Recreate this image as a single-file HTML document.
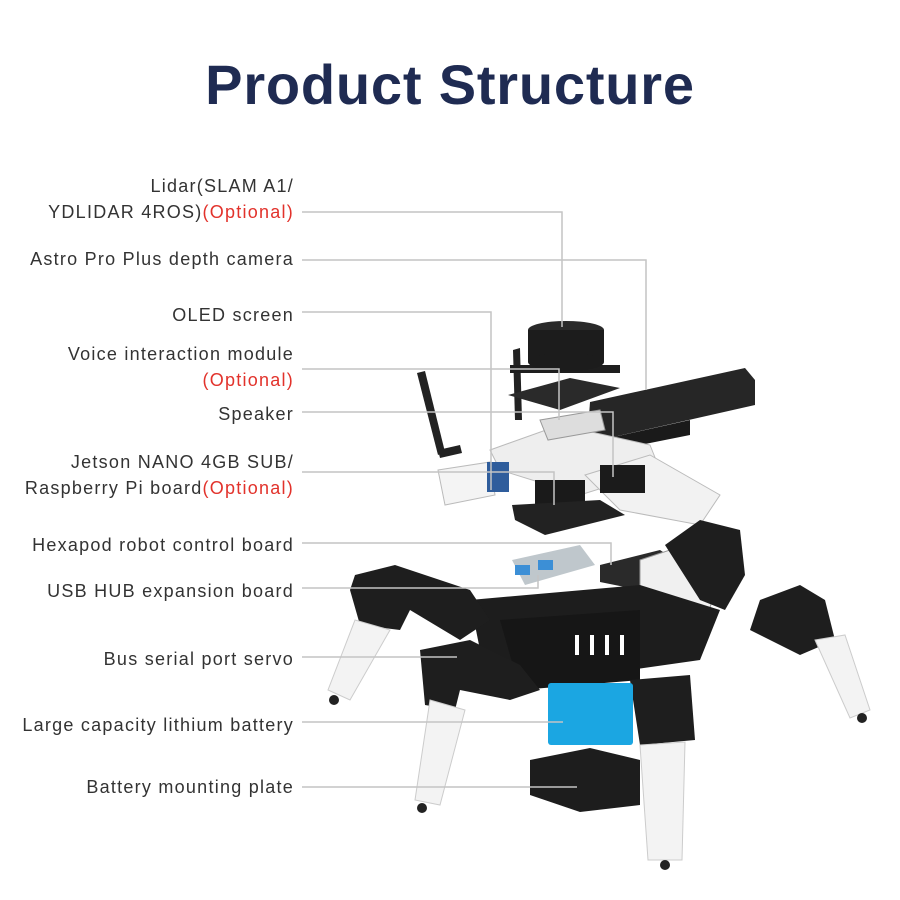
<!DOCTYPE html>
<html><head><meta charset="utf-8"><style>
html,body{margin:0;padding:0;background:#fff;}
#w{position:relative;width:900px;height:900px;overflow:hidden;background:#fff;font-family:"Liberation Sans",sans-serif;}
h1{position:absolute;top:52px;left:0;width:900px;text-align:center;margin:0;font-size:56px;font-weight:bold;color:#1f2b52;letter-spacing:0.8px;}
.l{position:absolute;right:606px;font-size:18px;color:#333;text-align:right;white-space:nowrap;line-height:26px;letter-spacing:1.25px;}
.r{color:#e2322b;}
svg{position:absolute;left:0;top:0;}
</style></head><body><div id="w">
<h1>Product Structure</h1>
<svg width="900" height="900">
<g>
<polygon points="417,373 425,371 445,452 438,455" fill="#222"/>
<polygon points="438,450 460,445 462,453 440,458" fill="#222"/>
<polygon points="513,350 520,348 522,420 515,420" fill="#222"/>
<rect x="510" y="365" width="110" height="8" fill="#1e1e1e"/>
<ellipse cx="566" cy="330" rx="38" ry="9" fill="#2a2a2a"/>
<rect x="528" y="330" width="76" height="32" fill="#1c1c1c"/>
<ellipse cx="566" cy="362" rx="38" ry="9" fill="#1c1c1c"/>
<polygon points="508,395 570,378 620,388 560,410" fill="#2a2a2a"/>
<polygon points="590,402 745,368 755,380 755,405 600,440 588,430" fill="#262626"/>
<polygon points="600,440 690,420 690,435 605,452" fill="#1a1a1a"/>
<polygon points="490,450 560,425 650,445 660,470 580,495 500,470" fill="#eeeeee" stroke="#bbb"/>
<polygon points="540,420 600,410 605,430 548,440" fill="#ddd" stroke="#999"/>
<polygon points="585,475 650,455 720,495 700,525 620,510" fill="#f2f2f2" stroke="#bbb"/>
<rect x="600" y="465" width="45" height="28" fill="#1b1b1b"/>
<polygon points="438,470 490,462 495,495 445,505" fill="#f4f4f4" stroke="#bbb"/>
<rect x="487" y="462" width="22" height="30" fill="#2f5d9c"/>
<rect x="535" y="480" width="50" height="28" fill="#1a1a1a"/>
<polygon points="512,505 600,500 625,515 545,535 515,520" fill="#222"/>
<polygon points="512,560 580,545 595,565 525,585" fill="#bfc7cc"/>
<rect x="515" y="565" width="15" height="10" fill="#3c8fd6"/>
<rect x="538" y="560" width="15" height="10" fill="#3c8fd6"/>
<polygon points="600,565 660,550 690,570 640,590 600,582" fill="#2a2a2a"/>
<polygon points="640,560 700,540 720,575 700,640 660,640 640,600" fill="#f0f0f0" stroke="#999"/>
<polygon points="470,600 640,585 720,610 700,660 560,680 480,650" fill="#1d1d1d"/>
<polygon points="500,620 640,610 640,680 520,690" fill="#161616"/>
<g fill="#fff"><rect x="575" y="635" width="4" height="20"/><rect x="590" y="635" width="4" height="20"/><rect x="605" y="635" width="4" height="20"/><rect x="620" y="635" width="4" height="20"/></g>
<polygon points="355,575 395,565 470,590 490,620 460,640 410,610 400,630 360,625 350,590" fill="#1e1e1e"/>
<polygon points="355,620 390,630 350,700 328,690" fill="#f3f3f3" stroke="#ccc"/>
<circle cx="334" cy="700" r="5" fill="#222"/>
<polygon points="420,650 470,640 520,665 540,690 510,700 460,690 455,710 425,705" fill="#1e1e1e"/>
<polygon points="430,700 465,710 440,805 415,800" fill="#f3f3f3" stroke="#ccc"/>
<circle cx="422" cy="808" r="5" fill="#222"/>
<polygon points="665,545 700,520 740,530 745,575 725,610 700,600" fill="#1e1e1e"/>
<polygon points="760,600 800,585 825,600 835,640 800,655 770,640 750,630" fill="#1e1e1e"/>
<polygon points="815,640 845,635 870,710 850,718" fill="#f3f3f3" stroke="#ccc"/>
<circle cx="862" cy="718" r="5" fill="#222"/>
<polygon points="630,680 690,675 695,740 640,745" fill="#1e1e1e"/>
<polygon points="640,745 685,742 682,860 648,860" fill="#f3f3f3" stroke="#ccc"/>
<circle cx="665" cy="865" r="5" fill="#222"/>
<rect x="548" y="683" width="85" height="62" rx="3" fill="#1ba6e2"/>
<polygon points="530,760 590,748 640,760 640,805 580,812 530,795" fill="#1d1d1d"/>
</g>
<g fill="none" stroke="#c4c4c4" stroke-width="1.5">
<polyline points="302,212 562,212 562,327"/>
<polyline points="302,260 646,260 646,390"/>
<polyline points="302,312 491,312 491,490"/>
<polyline points="302,369 559,369 559,420"/>
<polyline points="302,412 613,412 613,477"/>
<polyline points="302,472 554,472 554,505"/>
<polyline points="302,543 611,543 611,565"/>
<polyline points="302,588 538,588 538,575"/>
<polyline points="302,657 457,657"/>
<polyline points="302,722 563,722"/>
<polyline points="302,787 577,787"/>
</g>
</svg>
<div class="l" style="top:173px">Lidar(SLAM A1/<br>YDLIDAR 4ROS)<span class="r">(Optional)</span></div>
<div class="l" style="top:246px">Astro Pro Plus depth camera</div>
<div class="l" style="top:302px">OLED screen</div>
<div class="l" style="top:341px">Voice interaction module<br><span class="r">(Optional)</span></div>
<div class="l" style="top:401px">Speaker</div>
<div class="l" style="top:449px">Jetson NANO 4GB SUB/<br>Raspberry Pi board<span class="r">(Optional)</span></div>
<div class="l" style="top:532px">Hexapod robot control board</div>
<div class="l" style="top:578px">USB HUB expansion board</div>
<div class="l" style="top:646px">Bus serial port servo</div>
<div class="l" style="top:712px">Large capacity lithium battery</div>
<div class="l" style="top:774px">Battery mounting plate</div>
</div></body></html>
